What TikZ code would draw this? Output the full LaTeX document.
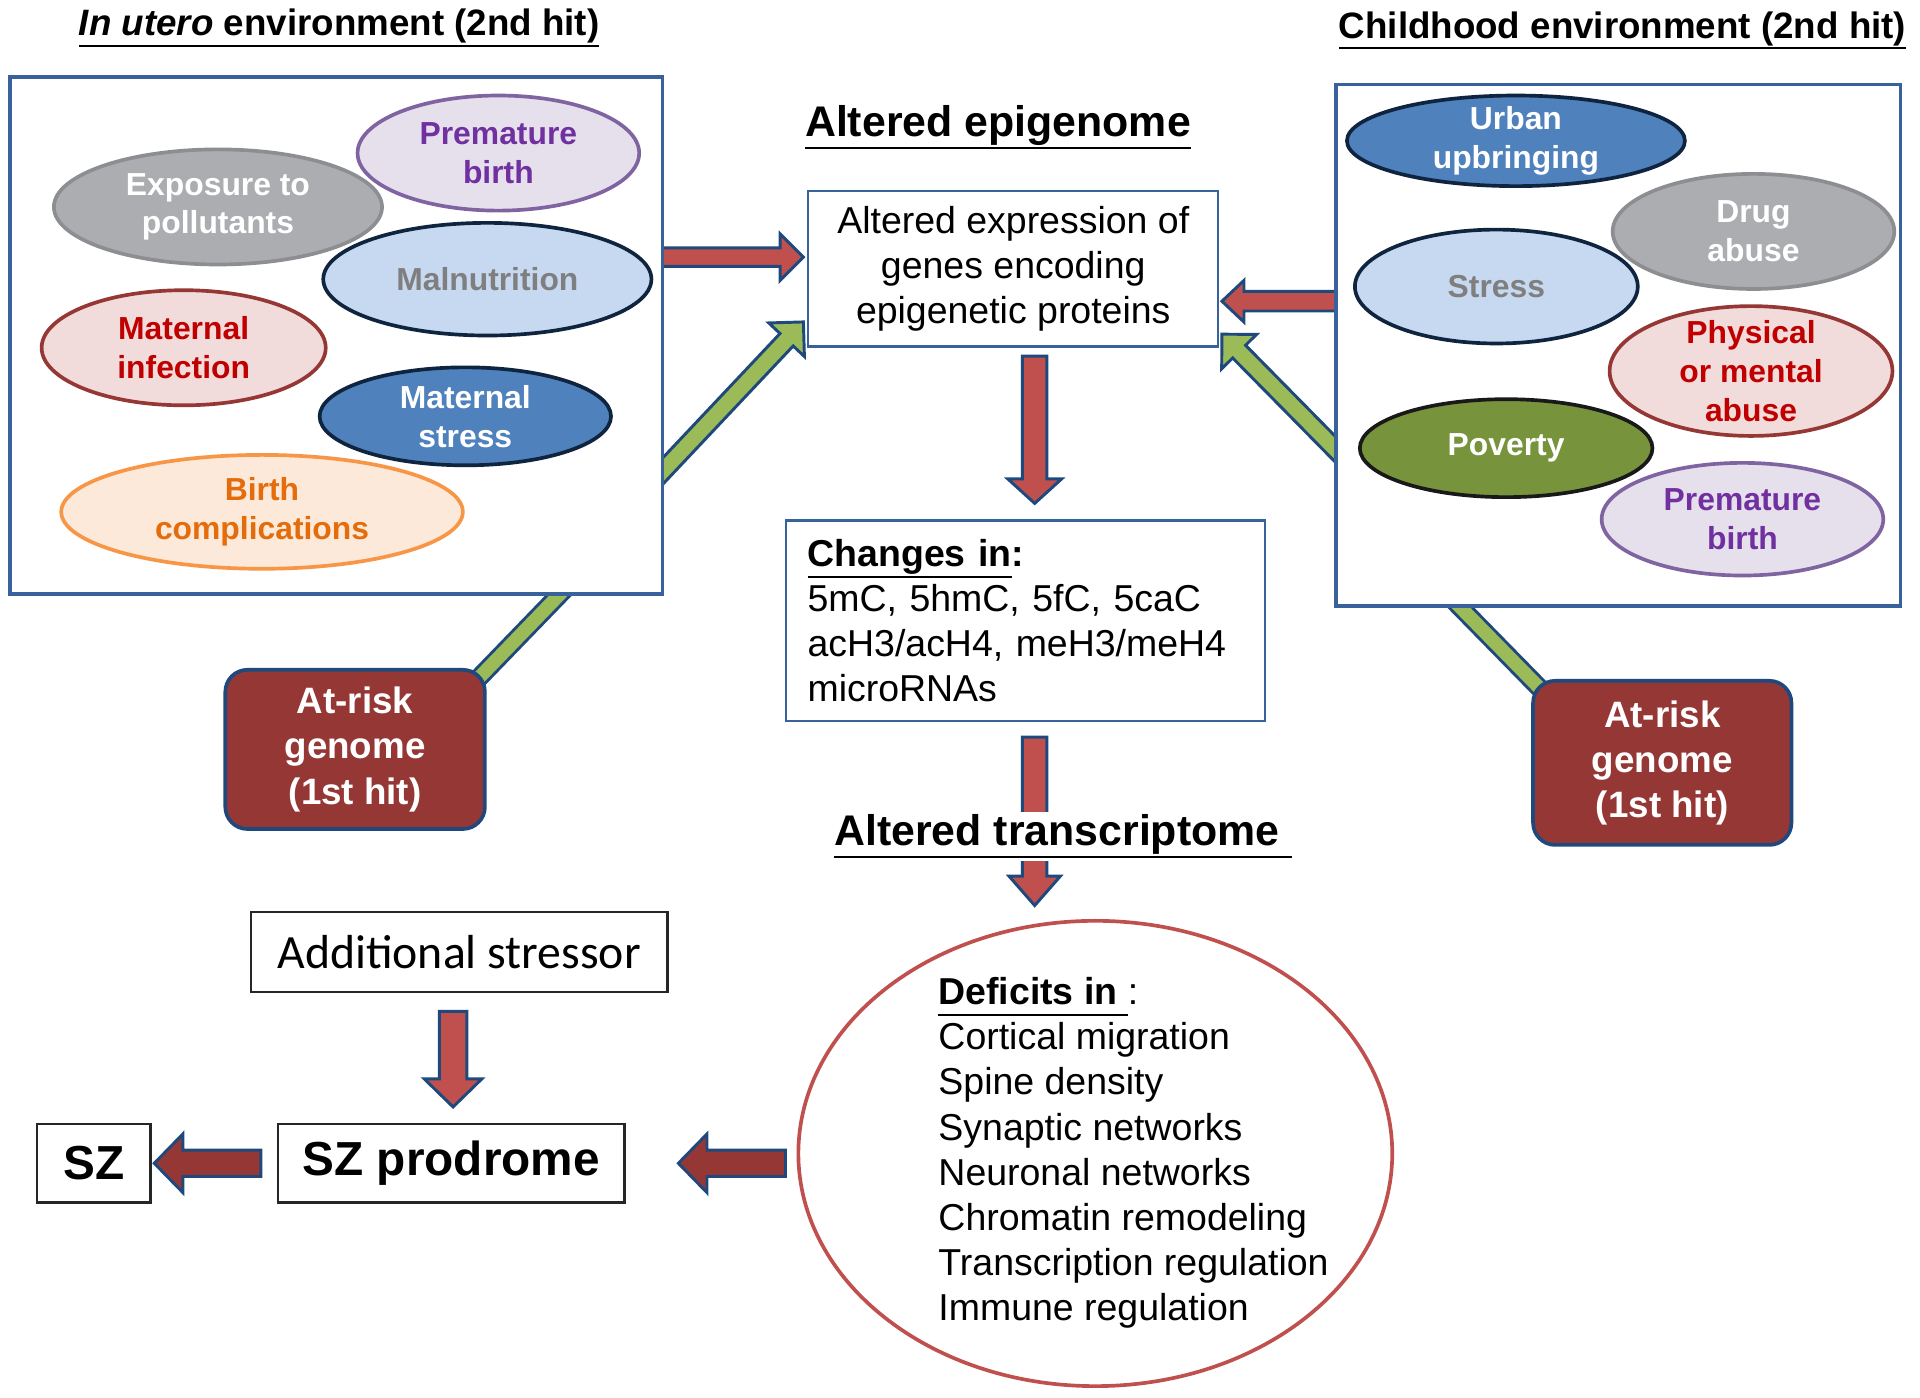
\documentclass[tikz,border=0pt]{standalone}
\usepackage{fontspec}
\setmainfont{Liberation Sans}
\newfontfamily\stressorfont{Carlito}
\newcommand{\UnderText}[1]{\setbox0=\hbox{#1}\rlap{\copy0}\rule[-0.3em]{\wd0}{1pt}}
\usetikzlibrary{shapes,calc,backgrounds}
\definecolor{boxblue}{RGB}{56,98,156}
\definecolor{arrowblue}{RGB}{31,73,125}
\definecolor{arrowred}{RGB}{192,80,77}
\definecolor{darkred}{RGB}{149,55,53}
\definecolor{arrowgreen}{RGB}{155,187,89}
\definecolor{lavender}{RGB}{230,224,236}
\definecolor{purpleline}{RGB}{128,100,162}
\definecolor{purpletext}{RGB}{112,48,160}
\definecolor{greyfill}{RGB}{172,173,176}
\definecolor{greyline}{RGB}{140,142,145}
\definecolor{palebluefill}{RGB}{198,217,241}
\definecolor{navyline}{RGB}{15,36,62}
\definecolor{greytext}{RGB}{127,127,127}
\definecolor{pinkfill}{RGB}{242,220,219}
\definecolor{redtext}{RGB}{192,0,0}
\definecolor{bluefill}{RGB}{79,129,189}
\definecolor{orangefill}{RGB}{253,233,217}
\definecolor{orangeline}{RGB}{247,150,70}
\definecolor{orangetext}{RGB}{228,108,10}
\definecolor{olivefill}{RGB}{119,147,60}

\begin{document}
\begin{tikzpicture}[x=0.5pt,y=-0.5pt]
  \useasboundingbox (0,0) rectangle (1568,1141);
  \tikzset{FactorStyle/.style = {
    shape         = ellipse,
    line width    = 1.5pt,
    inner xsep    = 0pt,
    inner ysep    = -3pt,
    align         = center,
    font          = \bfseries\fontsize{13}{15.8}\selectfont
    },
    FactorSize/.style 2 args = {minimum width = #1, minimum height = #2},
    PurpleStyle/.style   = {FactorStyle, fill = lavender, draw = purpleline, text = purpletext},
    GreyStyle/.style     = {FactorStyle, fill = greyfill, draw = greyline, text = white},
    PaleBlueStyle/.style = {FactorStyle, fill = palebluefill, draw = navyline, text = greytext},
    PinkStyle/.style     = {FactorStyle, fill = pinkfill, draw = darkred, text = redtext},
    BlueStyle/.style     = {FactorStyle, fill = bluefill, draw = navyline, text = white},
    OrangeStyle/.style   = {FactorStyle, fill = orangefill, draw = orangeline, text = orangetext},
    OliveStyle/.style    = {FactorStyle, fill = olivefill, draw = black!90, text = white}
  }
  \tikzset{FrameStyle/.style = {
    shape         = rectangle,
    draw          = boxblue,
    fill          = white,
    line width    = 1.5pt
    }
  }
  \tikzset{EpiBoxStyle/.style = {
    shape         = rectangle,
    draw          = boxblue,
    fill          = white,
    line width    = 0.9pt,
    align         = center,
    font          = \fontsize{15.3}{18.3}\selectfont
    }
  }
  \tikzset{PlainBoxStyle/.style = {
    shape         = rectangle,
    draw          = black!85,
    fill          = white,
    line width    = 1pt,
    inner sep     = 4pt
    }
  }
  \tikzset{GenomeStyle/.style = {
    shape         = rectangle,
    rounded corners = 9pt,
    draw          = arrowblue,
    fill          = darkred,
    line width    = 1.5pt,
    text          = white,
    align         = center,
    font          = \bfseries\fontsize{15}{18.5}\selectfont
    }
  }
  \tikzset{TitleStyle/.style = {font = \bfseries\fontsize{15}{18}\selectfont, inner sep = 1pt},
    HeadStyle/.style = {font = \bfseries\fontsize{17.5}{21}\selectfont, inner sep = 1pt}
  }
  \tikzset{ShaftWidth/.store in = \ShaftW,
    HeadWidth/.store in  = \HeadW,
    HeadLength/.store in = \HeadL,
    ShaftWidth = 5pt, HeadWidth = 11pt, HeadLength = 10pt
  }
  \tikzset{ArrowStyle/.style = {
    draw          = arrowblue,
    fill          = #1,
    line width    = 1.2pt,
    line join     = miter,
    to path       = {
      ($(\tikztostart)!\ShaftW!90:(\tikztotarget)$)
      -- ($(\tikztotarget)!\HeadL!(\tikztostart)!\ShaftW!-90:(\tikztostart)$)
      -- ($(\tikztotarget)!\HeadL!(\tikztostart)!\HeadW!-90:(\tikztostart)$)
      -- (\tikztotarget)
      -- ($(\tikztotarget)!\HeadL!(\tikztostart)!\HeadW!90:(\tikztostart)$)
      -- ($(\tikztotarget)!\HeadL!(\tikztostart)!\ShaftW!90:(\tikztostart)$)
      -- ($(\tikztostart)!\ShaftW!-90:(\tikztotarget)$)
      -- cycle}
    }
  }
  \tikzset{GenomeLinkStyle/.style = {
    draw            = arrowblue,
    line width      = 1.2pt,
    double          = arrowgreen,
    double distance = 5.5pt
    }
  }

  % titles
  \node[TitleStyle](TitleL) at (277, 23) {\UnderText{\textit{In utero} environment (2nd hit)}};
  \node[TitleStyle](TitleR) at (1325, 25) {\UnderText{Childhood environment (2nd hit)}};
  \node[HeadStyle](EpiTitle) at (815, 104) {\UnderText{Altered epigenome}};

  % in utero factors
  \node[FrameStyle, minimum width=266.5pt, minimum height=211pt](BoxL) at (274.5, 274) {};
  \node[GreyStyle, FactorSize={134pt}{47pt}](L1) at (178, 169) {Exposure to\\pollutants};
  \node[PurpleStyle, FactorSize={115pt}{47pt}](L2) at (407, 125) {Premature\\birth};
  \node[PaleBlueStyle, FactorSize={134pt}{46pt}](L3) at (398, 228) {Malnutrition};
  \node[PinkStyle, FactorSize={116pt}{47pt}](L4) at (150, 284) {Maternal\\infection};
  \node[OrangeStyle, FactorSize={164pt}{46.5pt}](L5) at (214, 418) {Birth\\complications};
  \node[BlueStyle, FactorSize={119pt}{40pt}](L6) at (380, 340) {Maternal\\stress};

  % childhood factors
  \node[FrameStyle, minimum width=230.5pt, minimum height=213pt](BoxR) at (1321.5, 282) {};
  \node[BlueStyle, FactorSize={138pt}{37pt}](R1) at (1238, 115) {Urban\\upbringing};
  \node[GreyStyle, FactorSize={115pt}{47pt}](R2) at (1432, 189) {Drug\\abuse};
  \node[PaleBlueStyle, FactorSize={115.5pt}{46.5pt}](R3) at (1222, 234) {Stress};
  \node[PinkStyle, FactorSize={115.5pt}{53pt}](R4) at (1430, 303) {Physical\\or mental\\abuse};
  \node[PurpleStyle, FactorSize={115pt}{46pt}](R5) at (1423, 424) {Premature\\birth};
  \node[OliveStyle, FactorSize={119.5pt}{40pt}](R6) at (1230, 366) {Poverty};

  \node[GenomeStyle, minimum width=106pt, minimum height=65pt](GL) at (290, 612) {At-risk\\genome\\(1st hit)};
  \node[GenomeStyle, minimum width=105.5pt, minimum height=67pt](GR) at (1357.5, 623) {At-risk\\genome\\(1st hit)};

  % epigenome and transcriptome
  \node[EpiBoxStyle, minimum width=167.5pt, minimum height=63.5pt](Epi) at (827.5, 219.5) {Altered expression of\\genes encoding\\epigenetic proteins};
  \node[EpiBoxStyle, minimum width=195.5pt, minimum height=82pt, text width=178pt, inner xsep=8.5pt, align=left](Chg) at (837.5, 507) {\textbf{\UnderText{Changes in}:}\\5mC, 5hmC, 5fC, 5caC\\acH3/acH4, meH3/meH4\\microRNAs};
  \node[HeadStyle, fill=white](TransTitle) at (868, 683) {\UnderText{Altered transcriptome\ }};
  \node[shape=ellipse, draw=arrowred, line width=1.5pt, minimum width=242.5pt, minimum height=190pt](Def) at (894.5, 942) {};
  \node[anchor=west, align=left, inner sep=0pt, font=\fontsize{15.3}{18.4}\selectfont](DefText) at (766, 941.5) {\textbf{\UnderText{Deficits in\ }}:\\Cortical migration\\Spine density\\Synaptic networks\\Neuronal networks\\Chromatin remodeling\\Transcription regulation\\Immune regulation};

  % outcome
  \node[PlainBoxStyle, minimum width=170pt, minimum height=32.5pt, font=\stressorfont\fontsize{19.5}{22}\selectfont](Add) at (375, 777.5) {Additional stressor};
  \node[PlainBoxStyle, minimum width=141.5pt, minimum height=32pt, font=\bfseries\fontsize{19.5}{22}\selectfont](Pro) at (368.5, 950) {SZ prodrome};
  \node[PlainBoxStyle, minimum width=46.5pt, minimum height=32pt, font=\bfseries\fontsize{19.5}{22}\selectfont](SZ) at (76.5, 950) {SZ};

  \begin{scope}[on background layer]
    \coordinate (a1) at ($(BoxL.east)+(-11,-64)$);
    \coordinate (a2) at ($(Epi.west)+(-3,-9.5)$);
    \coordinate (a3) at ($(BoxR.west)+(9,-36)$);
    \coordinate (a4) at ($(Epi.east)+(2,26.5)$);
    \coordinate (g1) at ($(BoxL.east)+(-10,120)$);
    \coordinate (g2) at ($(Epi.south west)+(-3,-21)$);
    \coordinate (g3) at ($(BoxR.west)+(11,95)$);
    \coordinate (g4) at ($(Epi.south east)+(2,-11)$);
    \coordinate (d1) at ($(Epi.south)+(17.5,7)$);
    \coordinate (d2) at ($(Chg.north)+(7.5,-13)$);
    \coordinate (t1) at ($(Chg.south)+(7.5,12)$);
    \coordinate (t2) at ($(Def.north)+(-49.5,-11)$);
    \coordinate (p1) at ($(Def.west)+(-9,8)$);
    \coordinate (p2) at ($(Pro.east)+(43,0)$);
    \coordinate (s1) at ($(Pro.west)+(-13,0)$);
    \coordinate (s2) at ($(SZ.east)+(2,0)$);
    \coordinate (x1) at ($(Add.south)+(-5,15)$);
    \coordinate (x2) at ($(Pro.north)+(1.5,-13)$);
    \coordinate (l1) at ($(GL.north east)+(-16,18)$);
    \coordinate (l2) at ($(BoxL.south east)+(-72,-15)$);
    \coordinate (r1) at ($(GR.north west)+(23,24)$);
    \coordinate (r2) at ($(BoxR.south west)+(89,-15)$);

    \draw[GenomeLinkStyle](l1) -- (l2);
    \draw[GenomeLinkStyle](r1) -- (r2);
    \draw[ArrowStyle=arrowred, ShaftWidth=3.8pt, HeadWidth=9.5pt, HeadLength=9.5pt](a1) to (a2);
    \draw[ArrowStyle=arrowred, ShaftWidth=4pt, HeadWidth=8.5pt, HeadLength=9pt](a3) to (a4);
    \draw[ArrowStyle=arrowgreen, ShaftWidth=3.7pt, HeadWidth=10pt, HeadLength=10pt](g1) to (g2);
    \draw[ArrowStyle=arrowgreen, ShaftWidth=3.7pt, HeadWidth=10pt, HeadLength=10pt](g3) to (g4);
    \draw[ArrowStyle=arrowred, ShaftWidth=5pt, HeadWidth=11pt, HeadLength=10pt](d1) to (d2);
    \draw[ArrowStyle=arrowred, ShaftWidth=5pt, HeadWidth=10.5pt, HeadLength=12pt](t1) to (t2);
    \draw[ArrowStyle=darkred, ShaftWidth=5.4pt, HeadWidth=12pt, HeadLength=11.7pt](p1) to (p2);
    \draw[ArrowStyle=darkred, ShaftWidth=5.4pt, HeadWidth=12pt, HeadLength=11.7pt](s1) to (s2);
    \draw[ArrowStyle=arrowred, ShaftWidth=5.6pt, HeadWidth=11.8pt, HeadLength=11.5pt](x1) to (x2);
  \end{scope}
\end{tikzpicture}
\end{document}
